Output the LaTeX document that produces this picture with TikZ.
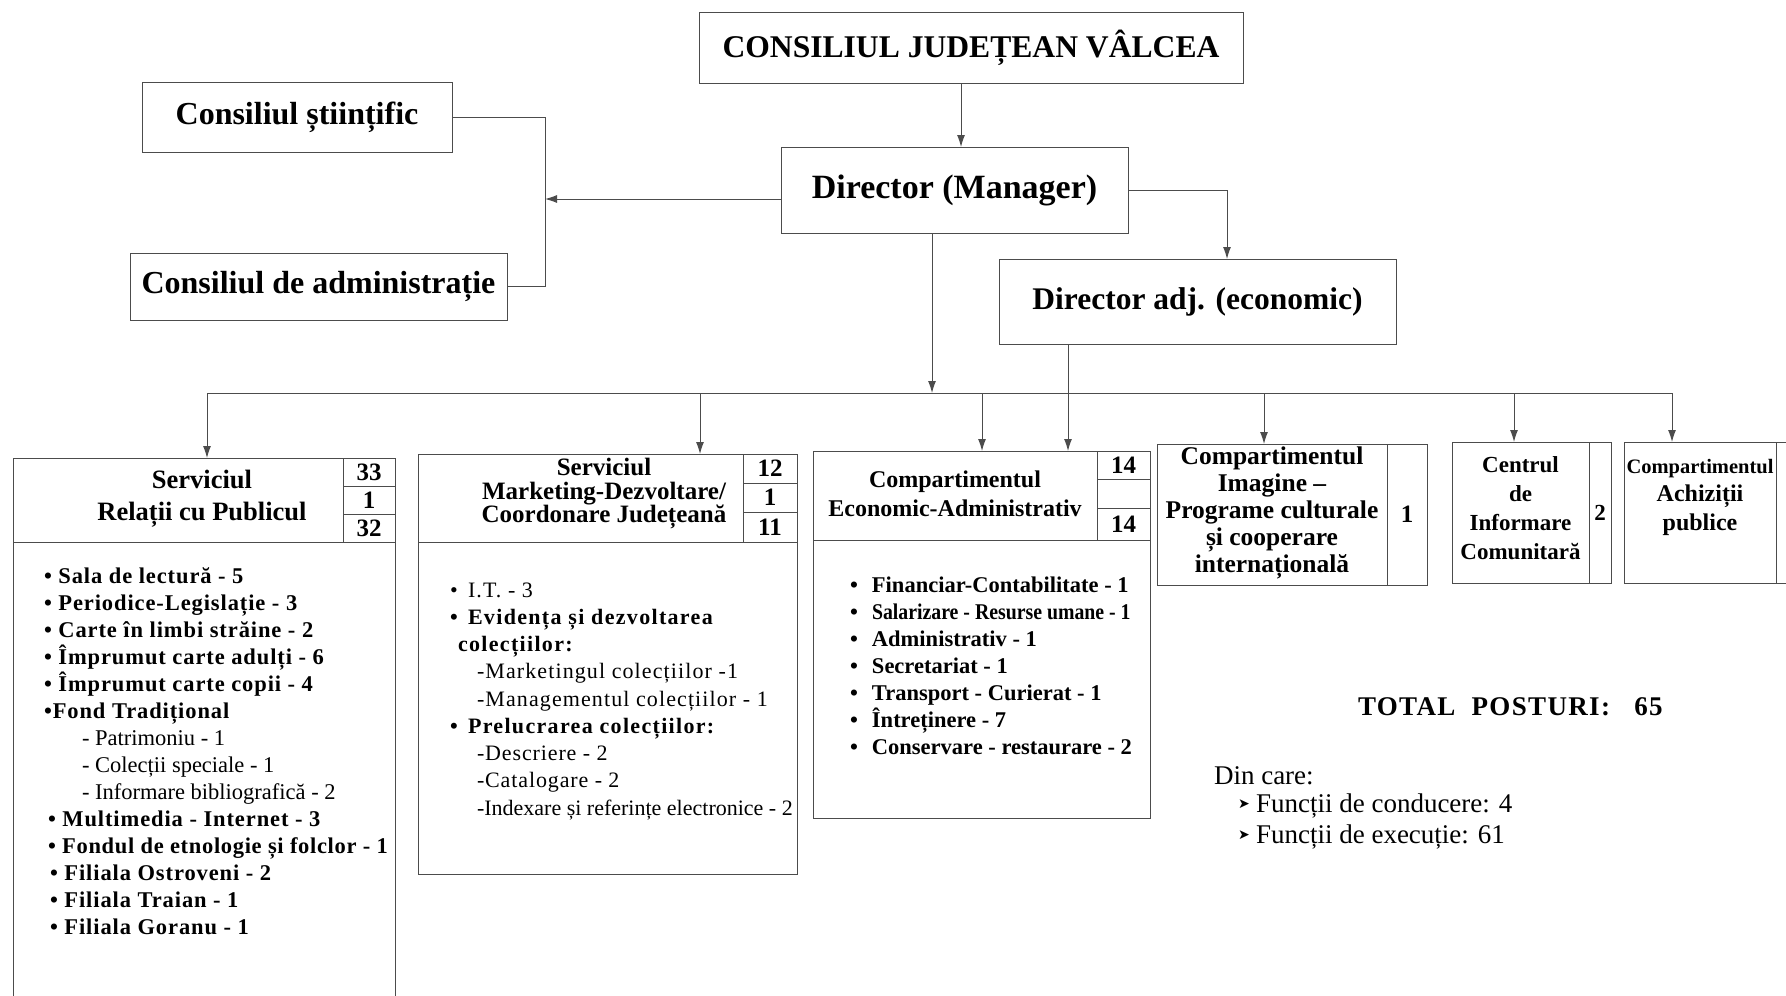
\documentclass[tikz,border=0pt]{standalone}
\usepackage{fontspec}
\setmainfont{Liberation Serif}
\newfontfamily\dvsans{DejaVu Sans}
\usetikzlibrary{arrows.meta,calc}
\newcommand\fsz[2]{\fontsize{#1}{#2}\selectfont}
\newcommand\lsp[1]{\addfontfeatures{LetterSpace=#1}}
\begin{document}
\begin{tikzpicture}[x=1pt,y=-1pt,
  ln/.style={draw=black!70,line width=1pt},
  arr/.style={ln,-{Latex[length=12pt,width=8pt]}},
  bx/.style={ln,rectangle,inner sep=0pt,outer sep=0pt},
  tx/.style={inner sep=0pt,outer sep=0pt,align=center},
  li/.style={inner sep=0pt,outer sep=0pt,anchor=base west},
  numc/.style={bx,font=\fsz{25}{28}\bfseries},
]
\fill[white] (0,0) rectangle (1786,996);
\useasboundingbox (0,0) rectangle (1786,996);

% ---------- top part ----------
\node[bx,minimum width=544pt,minimum height=71pt,font=\fsz{31.6}{36}\bfseries] (cjv) at (971,47.5) {CONSILIUL JUDEȚEAN VÂLCEA};
\node[bx,minimum width=347pt,minimum height=86pt,font=\fsz{34}{38}\bfseries] (dir) at (954.5,190) {\raisebox{7pt}{Director (Manager)}};
\node[bx,minimum width=310pt,minimum height=70pt,font=\fsz{32}{36}\bfseries] (cs) at (297,117) {Consiliul științific};
\node[bx,minimum width=377pt,minimum height=67pt,font=\fsz{32}{36}\bfseries] (ca) at (318.5,286.5) {Consiliul de administrație};
\node[bx,minimum width=397pt,minimum height=85pt,font=\fsz{31.5}{36}\bfseries] (da) at (1197.5,301.5) {\raisebox{4pt}{Director adj. (economic)}};

\coordinate (brk) at (545,199);
\coordinate (xa) at (961,0);
\coordinate (xb) at (1227,0);
\coordinate (xc) at (932,0);
\coordinate (xd) at (1068,0);
\coordinate (busL) at (207,393);
\coordinate (busR) at (1672,393);
\coordinate (x2) at (700,0);
\coordinate (x3) at (982,0);
\coordinate (x4) at (1264,0);
\coordinate (x5) at (1514,0);
\coordinate (bot) at (0,996);

\draw[arr] (cjv.south -| xa) -- (dir.north -| xa);
\draw[ln] (cs.east) -| (brk |- ca.east) -- (ca.east);
\draw[arr] (dir.west |- brk) -- (brk);
\draw[arr] (dir.east) -| (xb |- da.north);
\draw[arr] (dir.south -| xc) -- (xc |- busL);
\draw[ln] (busL) -- (busR);

% ---------- box 1 ----------
\node[bx,minimum width=330pt,minimum height=84pt] (b1h) at (178,500) {};
\node[tx,font=\fsz{26.5}{32}\bfseries] (b1t) at (202,499) {Serviciul\\Relații cu Publicul};
\node[numc,minimum width=52pt,minimum height=28pt] (b1a) at (369,472) {33};
\node[numc,minimum width=52pt,minimum height=28pt] (b1b) at (369,500) {1};
\node[numc,minimum width=52pt,minimum height=28pt] (b1c) at (369,528) {32};
\draw[ln] (b1h.south west) -- (b1h.south west |- bot);
\draw[ln] (b1c.south east) -- (b1c.south east |- bot);
\foreach \x/\t [count=\i] in {
  44/{\lsp{4}\bfseries • Sala de lectură - 5},
  44/{\lsp{4}\bfseries • Periodice-Legislație - 3},
  44/{\lsp{4}\bfseries • Carte în limbi străine - 2},
  44/{\lsp{4}\bfseries • Împrumut carte adulți - 6},
  44/{\lsp{4}\bfseries • Împrumut carte copii - 4},
  44/{\lsp{4}\bfseries •Fond Tradițional},
  82/{- Patrimoniu - 1},
  82/{- Colecții speciale - 1},
  82/{- Informare bibliografică - 2},
  48/{\lsp{4}\bfseries • Multimedia - Internet - 3},
  48/{\lsp{3}\bfseries • Fondul de etnologie și folclor - 1},
  50/{\lsp{4}\bfseries • Filiala Ostroveni - 2},
  50/{\lsp{4}\bfseries • Filiala Traian - 1},
  50/{\lsp{4}\bfseries • Filiala Goranu - 1}}
  \node[li,font=\fsz{22.5}{26}] (b1l\i) at (\x,{583+27*(\i-1)}) {\t};

% ---------- box 2 ----------
\node[bx,minimum width=325pt,minimum height=88pt] (b2h) at (580.5,498) {};
\node[tx,font=\fsz{25}{23.5}\bfseries] (b2t) at (604,494) {Serviciul\\Marketing-Dezvoltare/\\Coordonare Județeană};
\node[numc,minimum width=54pt,minimum height=29pt] (b2a) at (770,468.5) {12};
\node[numc,minimum width=54pt,minimum height=29pt] (b2b) at (770,497.5) {1};
\node[numc,minimum width=54pt,minimum height=30pt] (b2c) at (770,527) {11};
\node[bx,minimum width=379pt,minimum height=332pt] (b2d) at (607.5,708) {};
\foreach \x/\t [count=\i] in {
  450/{\lsp{5}\makebox[18pt][l]{•}I.T. - 3},
  450/{\lsp{6}\bfseries\makebox[18pt][l]{•}Evidența și dezvoltarea},
  458/{\lsp{6}\bfseries colecțiilor:},
  477/{\lsp{5}-Marketingul colecțiilor -1},
  477/{\lsp{5}-Managementul colecțiilor - 1},
  450/{\lsp{6}\bfseries\makebox[18pt][l]{•}Prelucrarea colecțiilor:},
  477/{\lsp{4}-Descriere - 2},
  477/{\lsp{4}-Catalogare - 2},
  477/{-Indexare și referințe electronice - 2}}
  \node[li,font=\fsz{22}{26}] (b2l\i) at (\x,{597+27.25*(\i-1)}) {\t};

% ---------- box 3 ----------
\node[bx,minimum width=284pt,minimum height=89pt] (b3h) at (955,495.5) {};
\node[tx,font=\fsz{24}{29}\bfseries] (b3t) at (955,494) {Compartimentul\\Economic-Administrativ};
\node[numc,minimum width=53pt,minimum height=28pt] (b3a) at (1123.5,465) {14};
\node[numc,minimum width=53pt,minimum height=29pt] (b3b) at (1123.5,493.5) {};
\node[numc,minimum width=53pt,minimum height=32pt] (b3c) at (1123.5,524) {14};
\node[bx,minimum width=337pt,minimum height=278pt] (b3d) at (981.5,679) {};
\foreach \t [count=\i] in {
  {Financiar-Contabilitate - 1},
  {\scalebox{0.88}[1]{Salarizare - Resurse umane - 1}},
  {Administrativ - 1},
  {Secretariat - 1},
  {Transport - Curierat - 1},
  {Întreținere - 7},
  {Conservare - restaurare - 2}}
  \node[li,font=\fsz{22.5}{26}\bfseries] (b3l\i) at (850,{592+27*(\i-1)}) {\makebox[22pt][l]{•}\t};

% ---------- box 4 ----------
\node[bx,minimum width=230pt,minimum height=141pt] (b4) at (1272,514.5) {};
\node[tx,font=\fsz{25.5}{27}\bfseries] (b4t) at (1272,513) {Compartimentul\\Imagine –\\Programe culturale\\și cooperare\\internațională};
\node[numc,minimum width=40pt,minimum height=141pt] (b4n) at (1407,514.5) {1};

% ---------- box 5 ----------
\node[bx,minimum width=137pt,minimum height=141pt] (b5) at (1520.5,512.5) {};
\node[tx,font=\fsz{23}{29}\bfseries] (b5t) at (1520.5,508) {Centrul\\de\\Informare\\Comunitară};
\node[numc,minimum width=22pt,minimum height=141pt,font=\fsz{23}{26}\bfseries] (b5n) at (1600,512.5) {2};

% ---------- box 6 ----------
\node[bx,minimum width=152pt,minimum height=141pt] (b6) at (1700,512.5) {};
\node[tx,font=\fsz{24}{28.5}\bfseries] (b6t) at (1700,497) {{\fsz{20.5}{28.5}Compartimentul}\\Achiziții\\publice};
\draw[ln] (b6.north east) -- ++(12,0);
\draw[ln] (b6.south east) -- ++(12,0);

% ---------- branch arrows ----------
\draw[arr] (busL) -- (busL |- b1h.north);
\draw[arr] (x2 |- busL) -- (x2 |- b2h.north);
\draw[arr] (x3 |- busL) -- (x3 |- b3h.north);
\draw[arr] (xd |- da.south) -- (xd |- b3h.north);
\draw[arr] (x4 |- busL) -- (x4 |- b4.north);
\draw[arr] (x5 |- busL) -- (x5 |- b5.north);
\draw[arr] (busR) -- (busR |- b6.north);

% ---------- legend ----------
\node[li,font=\fsz{27}{30}\bfseries\lsp{5}] (tot) at (1358,715) {TOTAL\ \ POSTURI:\ \ \ 65};
\node[li,font=\fsz{27}{30}] (din) at (1214,784) {Din care:};
\node[li,font=\dvsans\fsz{14}{16}] (ar1) at (1238,808) {➤};
\node[li,font=\fsz{27}{30}] (fc) at (1256,812) {Funcții de conducere: 4};
\node[li,font=\dvsans\fsz{14}{16}] (ar2) at (1238,839) {➤};
\node[li,font=\fsz{27}{30}] (fe) at (1256,843) {Funcții de execuție: 61};
\end{tikzpicture}
\end{document}
